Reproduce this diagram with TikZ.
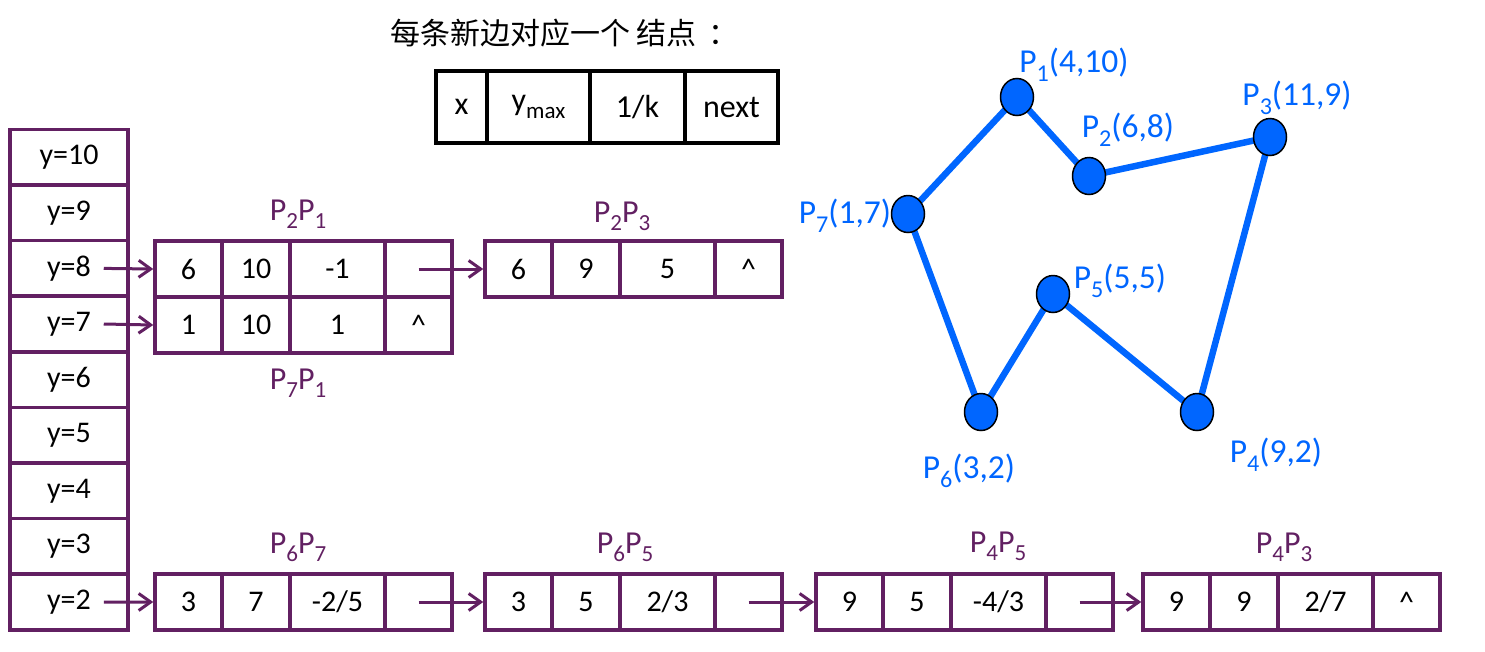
\documentclass[tikz,border=0pt]{standalone}
\usepackage{fontspec}
\setmainfont{Carlito}
\newfontfamily\cjk{Noto Sans CJK SC}
\usetikzlibrary{arrows.meta,shapes.geometric}
\definecolor{pur}{RGB}{98,32,98}
\definecolor{pblue}{RGB}{0,102,255}
\pgfdeclarelayer{bg}
\pgfsetlayers{bg,main}
\newcommand\sbs[1]{\raisebox{-0.27em}{\scalebox{0.72}{#1}}}
\newcommand\rec[7]{%
\node[cell,minimum width=67pt] (#1a) at (#2+33.5,#3) {#4};
\node[cell,minimum width=68pt] (#1b) at (#2+101,#3) {#5};
\node[cell,minimum width=95pt] (#1c) at (#2+182.5,#3) {#6};
\node[cell,minimum width=67pt] (#1d) at (#2+263.5,#3) {#7};}
\begin{document}
\begin{tikzpicture}[x=1pt,y=-1pt,
 cell/.style={draw=pur,line width=3.5pt,minimum height=56pt,inner sep=0pt,font=\fontsize{30}{36}\selectfont},
 lcell/.style={cell,minimum width=118pt,minimum height=55.6pt},
 fcell/.style={draw=black,line width=3.5pt,minimum height=72pt,inner sep=0pt,font=\fontsize{32}{38}\selectfont},
 plab/.style={text=pur,anchor=base,inner sep=0pt,font=\fontsize{32}{38}\selectfont},
 blab/.style={text=pblue,anchor=base,inner sep=0pt,font=\fontsize{33.5}{40}\selectfont},
 parrow/.style={draw=pur,line width=3pt,-{Straight Barb[length=12pt,width=17pt]}},
 vert/.style={ellipse,draw=black,line width=1.5pt,fill=pblue,minimum width=33pt,minimum height=37pt,inner sep=0pt},
 polyedge/.style={draw=pblue,line width=6.5pt}]
\useasboundingbox (0,0) rectangle (1485,651);
% title
\node[anchor=base west,inner sep=0pt,font=\cjk\fontsize{30}{36}\selectfont] (title) at (390,44) {每条新边对应一个 结点\kern12pt：};
% format box
\node[fcell,minimum width=51pt] (fx) at (461.5,107) {x};
\node[fcell,minimum width=103pt] (fy) at (538.5,107) {y\sbs{max}};
\node[fcell,minimum width=95pt] (fk) at (637.5,107) {1/k};
\node[fcell,minimum width=93pt] (fn) at (731.5,107) {next\hspace{16pt}};
% left column
\foreach \i/\t in {0/10,1/9,2/8,3/7,4/6,5/5,6/4,7/3,8/2}
  \node[lcell] (c\t) at (69,157.2+55.6*\i) {y=\t};
% records
\rec{ra}{155}{269}{6}{10}{-1}{}
\rec{rb}{155}{325}{1}{10}{1}{\textasciicircum}
\rec{rc}{485}{269}{6}{9}{5}{\textasciicircum}
\rec{rd}{155}{602}{3}{7}{-2/5}{}
\rec{re}{485}{602}{3}{5}{2/3}{}
\rec{rf}{816}{602}{9}{5}{-4/3}{}
\rec{rg}{1143}{602}{9}{9}{2/7}{\textasciicircum}
% record labels
\node[plab] (lab21) at (298,220) {P\sbs{2}P\sbs{1}};
\node[plab] (lab71) at (298,389) {P\sbs{7}P\sbs{1}};
\node[plab] (lab23) at (622,222) {P\sbs{2}P\sbs{3}};
\node[plab] (lab67) at (298,553) {P\sbs{6}P\sbs{7}};
\node[plab] (lab65) at (625,553) {P\sbs{6}P\sbs{5}};
\node[plab] (lab45) at (998,552) {P\sbs{4}P\sbs{5}};
\node[plab] (lab43) at (1284,553) {P\sbs{4}P\sbs{3}};
% arrows
\draw[parrow] ([xshift=-26pt]c8.east) -- (raa.west);
\draw[parrow] ([xshift=-26pt]c7.east) -- (rba.west);
\draw[parrow] ([xshift=-26pt]c2.east) -- (rda.west);
\draw[parrow] (rad.center) -- (rca.west);
\draw[parrow] (rdd.center) -- (rea.west);
\draw[parrow] (red.center) -- (rfa.west);
\draw[parrow] (rfd.center) -- (rga.west);
% polygon
\node[vert] (p1) at (1017,97) {};
\node[vert] (p2) at (1089,176) {};
\node[vert] (p3) at (1270,137) {};
\node[vert] (p4) at (1197,412) {};
\node[vert] (p5) at (1053,294) {};
\node[vert] (p6) at (981,412) {};
\node[vert] (p7) at (908,214) {};
\begin{pgfonlayer}{bg}
\draw[polyedge] (p1.center) -- (p2.center) -- (p3.center) -- (p4.center) -- (p5.center) -- (p6.center) -- (p7.center) -- cycle;
\end{pgfonlayer}
\node[blab] (l1) at (1074,72) {P\sbs{1}(4,10)};
\node[blab] (l2) at (1128,137) {P\sbs{2}(6,8)};
\node[blab] (l3) at (1297,105) {P\sbs{3}(11,9)};
\node[blab] (l7) at (845,223) {P\sbs{7}(1,7)};
\node[blab] (l5) at (1120,288) {P\sbs{5}(5,5)};
\node[blab] (l6) at (969,478) {P\sbs{6}(3,2)};
\node[blab] (l4) at (1276,462) {P\sbs{4}(9,2)};
\end{tikzpicture}
\end{document}
